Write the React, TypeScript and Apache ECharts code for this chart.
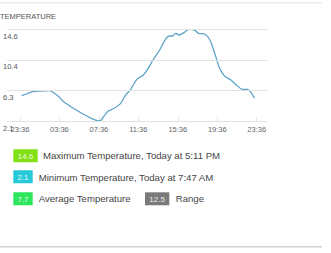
import React, { useEffect, useRef } from "react";
import * as echarts from "echarts";

// hours elapsed since 23:36 (previous day)
const hours = [0.17, 0.66, 1.32, 1.97, 2.96, 3.3, 3.95, 4.44, 5.27, 6.26, 7.25, 8.07, 8.23, 8.88, 9.55, 10.21, 10.7, 11.19, 11.85, 12.51, 13.0, 13.49, 14.16, 14.81, 15.14, 15.47, 15.79, 16.13, 16.62, 16.95, 17.28, 17.77, 18.1, 18.76, 19.25, 19.74, 20.24, 20.73, 21.39, 22.05, 22.55, 23.05, 23.76];
const temps = [5.55, 5.78, 6.1, 6.19, 6.23, 6.05, 5.41, 4.73, 3.97, 3.15, 2.47, 2.1, 2.24, 3.37, 3.83, 4.51, 5.64, 6.33, 7.78, 8.37, 9.28, 10.42, 11.78, 13.37, 13.69, 13.69, 14.05, 13.82, 14.14, 14.5, 14.6, 14.41, 14.05, 13.92, 13.14, 11.33, 9.28, 8.23, 7.69, 6.87, 6.42, 6.42, 5.19];
const xTickHours = [0, 4, 8, 12, 16, 20, 24];
const xTickLabels = ["23:36", "03:36", "07:36", "11:36", "15:36", "19:36", "23:36"];
const yMin = 2.1;
const yMax = 14.6;
const yTicks = [2.1, 2.1 + 12.5 / 3, 2.1 + 25 / 3, 14.6];

const summaryValues = ["14.6", "2.1", "7.7", "12.5"];
const summaryLabels = [
  "Maximum Temperature, Today at 5:11 PM",
  "Minimum Temperature, Today at 7:47 AM",
  "Average Temperature",
  "Range",
];
const summaryColors = ["#82e014", "#27c9d9", "#2ee65e", "#7a7a7a"];

export default function App() {
  const ref = useRef<HTMLDivElement>(null);
  useEffect(() => {
    const chart = echarts.init(ref.current!, null, { renderer: "svg" });
    const font = "Liberation Sans, Arial, sans-serif";
    const box = (x: number, y: number, w: number, i: number) => [
      {
        type: "rect",
        shape: { x, y, width: w, height: 13 },
        style: { fill: summaryColors[i] },
      },
      {
        type: "text",
        x: x + w / 2,
        y: y + 6.7,
        style: {
          text: summaryValues[i],
          fill: "#ffffff",
          font: `8px ${font}`,
          align: "center",
          verticalAlign: "middle",
          opacity: 0.9,
        },
      },
    ];
    const label = (x: number, y: number, i: number) => ({
      type: "text",
      x,
      y,
      style: {
        text: summaryLabels[i],
        fill: "#444",
        font: `9.6px ${font}`,
        verticalAlign: "middle",
      },
    });
    chart.setOption({
      animation: false,
      title: {
        text: "TEMPERATURE",
        left: 0,
        top: 12,
        textStyle: { fontSize: 7.5, fontWeight: "normal", color: "#555", fontFamily: font },
        padding: 0,
      },
      grid: { left: 0, right: 63.3, top: 29.3, height: 91.7 },
      xAxis: {
        type: "value",
        min: -1.31,
        max: 25.11,
        axisLine: { show: false },
        splitLine: { show: false },
        axisTick: {
          show: true,
          inside: true,
          length: 4,
          lineStyle: { color: "#e4e4e4" },
          customValues: xTickHours,
        },
        axisLabel: {
          customValues: xTickHours,
          formatter: (v: number) => xTickLabels[xTickHours.indexOf(v)] ?? "",
          fontSize: 7.5,
          color: "#666",
          fontFamily: font,
          margin: 4,
        },
      },
      yAxis: {
        type: "value",
        min: yMin,
        max: yMax,
        axisLine: { show: false },
        axisTick: { show: false, customValues: yTicks },
        splitLine: { show: false },
        axisLabel: {
          customValues: yTicks,
          inside: true,
          verticalAlign: "top",
          margin: -4,
          padding: [3, 0, 0, 0],
          formatter: (v: number) => v.toFixed(1),
          fontSize: 7.5,
          color: "#555",
          fontFamily: font,
        },
      },
      series: [
        {
          type: "line",
          data: hours.map((h, i) => [h, temps[i]]),
          showSymbol: false,
          smooth: 0.3,
          lineStyle: { color: "#5ea3c8", width: 1.3 },
          markLine: {
            silent: true,
            symbol: "none",
            label: { show: false },
            lineStyle: { color: "#e2e2e2", width: 1, type: "solid" },
            data: yTicks.map((v) => ({ yAxis: v })),
          },
          z: 3,
        },
      ],
      graphic: [
        {
          type: "line",
          shape: { x1: 0, y1: 2.7, x2: 322, y2: 2.7 },
          style: { stroke: "#ececec", lineWidth: 1.5 },
        },
        {
          type: "line",
          shape: { x1: 0, y1: 246.7, x2: 322, y2: 246.7 },
          style: { stroke: "#d0d0d0", lineWidth: 1.5 },
        },
        ...box(13.3, 149.3, 24.4, 0),
        label(43, 155.8, 0),
        ...box(13.3, 170.3, 19.4, 1),
        label(38.7, 177, 1),
        ...box(13.3, 192.3, 19.4, 2),
        label(38.7, 198.7, 2),
        ...box(145, 192.3, 24.3, 3),
        label(175.7, 198.7, 3),
      ],
    });
    return () => chart.dispose();
  }, []);
  return (
    <div
      ref={ref}
      style={{ position: "fixed", left: 0, top: 0, width: 331, height: 253, background: "#fff" }}
    />
  );
}
